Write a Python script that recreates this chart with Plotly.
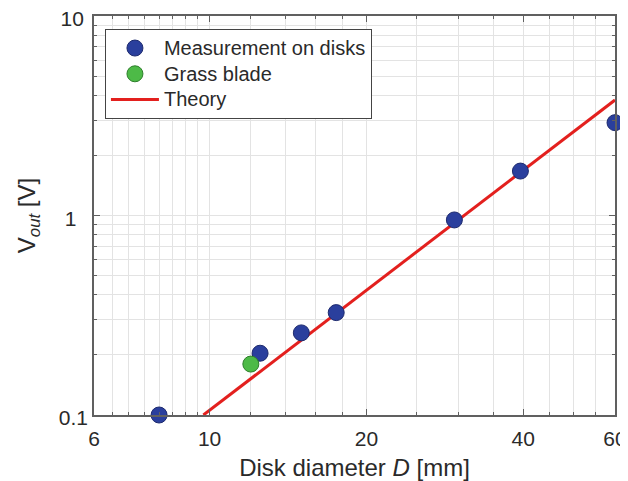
import plotly.graph_objects as go
import numpy as np

# Data
disk_d = [8.0, 12.5, 15.0, 17.5, 29.5, 39.5, 60.0]
disk_v = [0.100, 0.204, 0.258, 0.326, 0.95, 1.67, 2.92]
grass_d = [12.0]
grass_v = [0.180]
theory_d = [9.73, 60.0]
theory_v = [0.100, 3.79]

x_ticks = [6, 10, 20, 40, 60]
x_ticklabels = ["6", "10", "20", "40", "60"]
x_minor = [6.5, 7, 7.5, 8, 8.5, 9, 9.5, 12, 14, 16, 18, 25, 30, 35, 40, 45, 50, 55]
y_ticks = [0.1, 1, 10]
y_ticklabels = ["0.1", "1\u2007", "10\u2009"]
y_minor = [0.2, 0.3, 0.4, 0.5, 0.6, 0.7, 0.8, 0.9, 2, 3, 4, 5, 6, 7, 8, 9]

FONT = "Liberation Sans, Arial, sans-serif"
TXT = "#2a2a2a"
GRID = "#e3e3e3"
AX = "#606060"


def leg(name):
    return '<span style="font-size:20px">' + name + '</span>'


fig = go.Figure()
fig.add_trace(go.Scatter(
    x=theory_d, y=theory_v, mode="lines", name=leg("Theory"),
    line=dict(color="#e3201e", width=3), legendrank=3))
fig.add_trace(go.Scatter(
    x=disk_d, y=disk_v, mode="markers", name=leg("Measurement on disks"),
    marker=dict(size=16, color="#2a3f9d", line=dict(color="#1d2a6e", width=1)),
    cliponaxis=False, legendrank=1))
fig.add_trace(go.Scatter(
    x=grass_d, y=grass_v, mode="markers", name=leg("Grass blade"),
    marker=dict(size=16, color="#4dba47", line=dict(color="#2e7f2b", width=1)),
    cliponaxis=False, legendrank=2))

axis_common = dict(
    showline=True, linecolor=AX, linewidth=1.5, mirror="ticks",
    ticks="inside", ticklen=6, tickcolor=AX, tickwidth=1,
    showgrid=True, gridcolor=GRID, gridwidth=1, zeroline=False,
    tickfont=dict(family=FONT, size=21, color=TXT),
    automargin=False, ticklabeloverflow="allow",
)

fig.update_xaxes(
    type="log", range=[np.log10(6), np.log10(60)],
    tickmode="array", tickvals=x_ticks, ticktext=x_ticklabels,
    minor=dict(tickmode="array", tickvals=x_minor, ticks="inside", ticklen=3,
               tickcolor=AX, showgrid=True, gridcolor=GRID, gridwidth=1),
    ticklabelstandoff=4,
    title=dict(text="Disk diameter <i>D</i> [mm]", font=dict(family=FONT, size=24, color=TXT),
               standoff=10),
    **axis_common)
fig.update_yaxes(
    type="log", range=[-1, 1],
    tickmode="array", tickvals=y_ticks, ticktext=y_ticklabels,
    minor=dict(tickmode="array", tickvals=y_minor, ticks="inside", ticklen=3,
               tickcolor=AX, showgrid=True, gridcolor=GRID, gridwidth=1),
    ticklabelshift=3,
    title=dict(text="V<sub><i>out</i></sub> [V]", font=dict(family=FONT, size=24, color=TXT),
               standoff=16),
    **axis_common)

# page body adds ~8px margin; figure is sized so the plot lands at the reference spot
fig.update_layout(
    width=620, height=473,
    margin=dict(l=86, r=13, t=8, b=66, autoexpand=False),
    paper_bgcolor="white", plot_bgcolor="white",
    font=dict(family=FONT, color=TXT),
    showlegend=True,
    legend=dict(
        x=0.021, y=0.967, xanchor="left", yanchor="top",
        bgcolor="white", bordercolor="#444444", borderwidth=1,
        font=dict(family=FONT, size=17.5, color=TXT),
        traceorder="normal", itemwidth=48, tracegroupgap=0,
    ),
)

fig.write_html("out.html")
